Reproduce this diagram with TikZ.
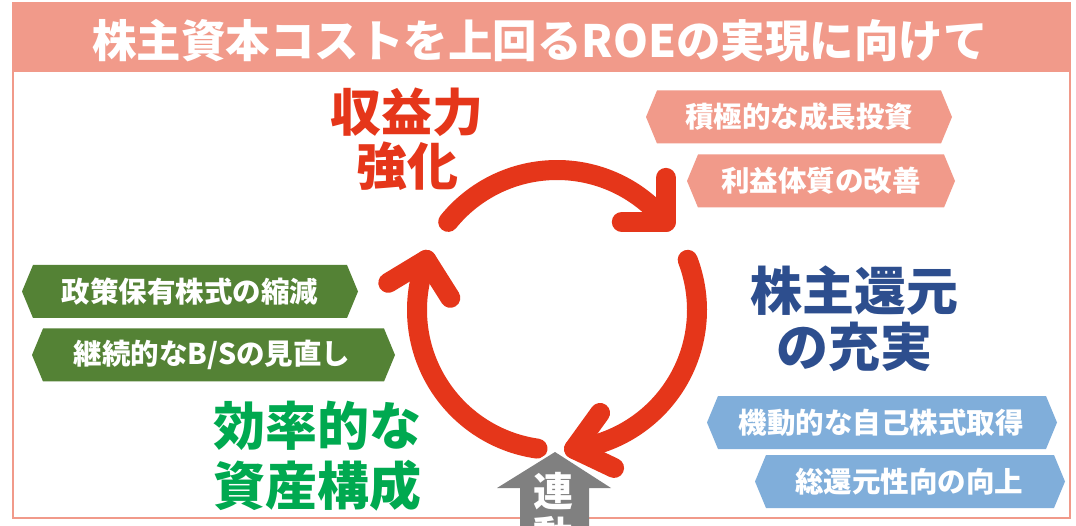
\documentclass[tikz,border=0pt]{standalone}
\usepackage{fontspec}
\setmainfont{Noto Sans CJK JP}
\definecolor{salmon}{HTML}{F19A8A}
\definecolor{redarc}{HTML}{E5361A}
\definecolor{taggreen}{HTML}{548235}
\definecolor{tagblue}{HTML}{80AEDA}
\definecolor{txtgreen}{HTML}{00A950}
\definecolor{txtnavy}{HTML}{2D4E8E}
\definecolor{arrgray}{HTML}{808080}
\newcommand\tagshape[4]{%
  \fill[#4] (#1,#3) -- (#1+11,#3-26.5) -- (#2-11,#3-26.5) -- (#2,#3)
    -- (#2-11,#3+26.5) -- (#1+11,#3+26.5) -- cycle;}
\begin{document}
\begin{tikzpicture}[x=1pt,y=-1pt,
  redline/.style={draw=redarc,line width=20pt,line cap=round,line join=round},
  tagtext/.style={text=white,font=\bfseries\fontsize{28.5}{30}\selectfont,inner sep=0pt},
  biglabel/.style={font=\bfseries,align=center,inner sep=0pt},
]
\clip (0,0) rectangle (1076,526);
\fill[white] (0,0) rectangle (1076,526);
% frame and title
\draw[salmon,line width=2pt] (13,3) rectangle (1070,518);
\fill[salmon] (12,3) rectangle (1071,72);
\node[text=white,font=\bfseries\fontsize{44.5}{46}\selectfont,inner sep=0pt] (title) at (540,41) {株主資本コストを上回るROEの実現に向けて};
% cycle arrows
\coordinate (c) at (557,310);
\draw[redline] (c) ++(-141:140) arc[start angle=-141,end angle=-39,radius=140] coordinate (e1);
\draw[redline] (e1) ++(-44,0) -- (e1) -- ++(0,-44);
\draw[redline] (c) ++(-21:140) arc[start angle=-21,end angle=83,radius=140] coordinate (e2);
\draw[redline] (e2) ++(26,-36) -- (e2) -- ++(40,19);
\draw[redline] (c) ++(98:140) arc[start angle=98,end angle=201,radius=140] coordinate (e3);
\draw[redline] (e3) ++(-38,23) -- (e3) -- ++(24,38);
% gray arrow
\draw[white,line width=5pt,line join=miter] (497,488) -- (555,452) -- (611,488);
\fill[arrgray] (555,452) -- (611,488) -- (589,488) -- (589,540) -- (520,540) -- (520,488) -- (497,488) -- cycle;
\node[text=white,font=\bfseries\fontsize{40}{44}\selectfont,inner sep=0pt] (ren) at (553,491) {連};
\node[text=white,font=\bfseries\fontsize{40}{44}\selectfont,inner sep=0pt] (dou) at (553,536) {動};
% big labels
\node[biglabel,text=redarc,font=\bfseries\fontsize{51}{54}\selectfont] (shueki) at (407,139) {収益力\\強化};
\node[biglabel,text=txtnavy,font=\bfseries\fontsize{52}{56}\selectfont] (kangen) at (854,319) {株主還元\\の充実};
\node[biglabel,text=txtgreen,font=\bfseries\fontsize{52}{60}\selectfont] (kouritsu) at (317,456) {効率的な\\資産構成};
% tags
\tagshape{646}{952}{117}{salmon}
\node[tagtext] (s1) at (799,117) {積極的な成長投資};
\tagshape{687}{955}{181}{salmon}
\node[tagtext] (s2) at (821,181) {利益体質の改善};
\tagshape{22}{358}{291.5}{taggreen}
\node[tagtext] (g1) at (190,291.5) {政策保有株式の縮減};
\tagshape{32}{395}{355}{taggreen}
\node[tagtext] (g2) at (212,355) {継続的なB/Sの見直し};
\tagshape{707}{1057}{422.5}{tagblue}
\node[tagtext] (b1) at (881,422.5) {機動的な自己株式取得};
\tagshape{755}{1065}{481.5}{tagblue}
\node[tagtext] (b2) at (909,481.5) {総還元性向の向上};
\end{tikzpicture}
\end{document}
